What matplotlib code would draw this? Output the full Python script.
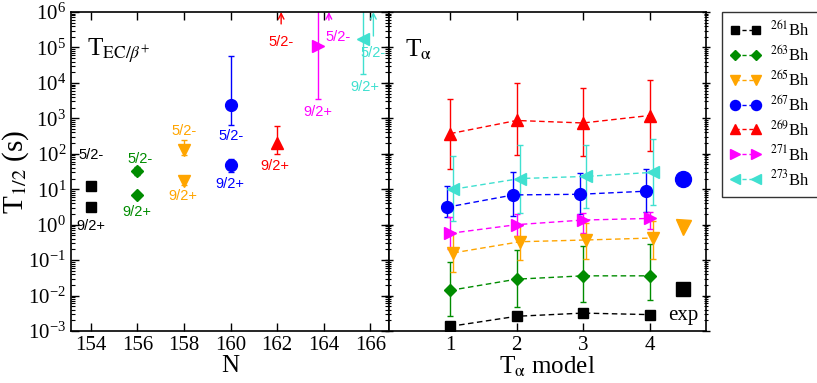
import matplotlib
matplotlib.use("Agg")
import matplotlib.pyplot as plt
import numpy as np
from matplotlib.ticker import LogLocator, NullFormatter, FixedLocator
from matplotlib.lines import Line2D

plt.rcParams['font.family'] = ['Liberation Serif', 'DejaVu Serif']
plt.rcParams['mathtext.fontset'] = 'stix'

# ---------------- data ----------------
isotopes = ['261', '263', '265', '267', '269', '271', '273']
colors = ['black', '#008c00', '#ffa500', '#0000ff', '#ff0000', '#ff00ff', '#40e0d0']
markers = ['s', 'D', 'v', 'o', '^', '>', '<']
msizes = [7, 6, 8, 8.5, 8, 8, 8]

# Left panel: EC/beta+ half-lives vs N
N_vals = [154, 156, 158, 160, 162, 164, 166]
ec_52 = [12, 32, 130, 2400, None, None, None]          # 5/2- state
ec_52_lo = [12, 25, 90, 660, None, None, None]
ec_52_hi = [12, 42, 250, 58000, None, None, None]
ec_92 = [3.1, 6.8, 17, 48, 200, 1.1e5, 1.7e5]          # 9/2+ state
ec_92_lo = [3.1, 6.0, 13, 30, 100, 3400, 1.8e4]
ec_92_hi = [3.1, 7.8, 24, 70, 600, 1e7, 1e7]
ec_N_shift = [0, 0, 0, 0, 0, -0.25, -0.3]              # drawn N for 9/2+
arrow_N = [None, None, None, None, 162.17, 164.22, 166.13]   # 5/2- lower limits
arrow_start = [None, None, None, None, 4.6e5, 5.9e5, 2.1e5]

# Right panel: alpha half-lives vs model
models = [1, 2, 3, 4]
ta_val = {
    '261': [0.00135, 0.0026, 0.0032, 0.0029],
    '263': [0.014, 0.029, 0.036, 0.036],
    '265': [0.16, 0.33, 0.37, 0.42],
    '267': [3.1, 6.9, 7.2, 8.8],
    '269': [370, 870, 740, 1200],
    '271': [0.57, 1.0, 1.35, 1.5],
    '273': [10, 20, 23, 30],
}
ta_lo = {
    '261': [0.00135, 0.0026, 0.0032, 0.0029],
    '263': [0.0027, 0.0047, 0.0066, 0.0076],
    '265': [0.045, 0.1, 0.11, 0.11],
    '267': [1.6, 1.75, 2.0, 2.3],
    '269': [38, 90, 85, 118],
    '271': [0.2, 0.48, 0.6, 0.74],
    '273': [1.27, 2.2, 3.0, 3.7],
}
ta_hi = {
    '261': [0.00135, 0.0026, 0.0032, 0.0029],
    '263': [0.09, 0.19, 0.25, 0.28],
    '265': [0.6, 1.0, 1.1, 1.26],
    '267': [12, 30, 28, 38],
    '269': [3500, 10000, 7400, 12000],
    '271': [1.6, 1.95, 2.2, 2.3],
    '273': [85, 175, 180, 260],
}
ta_shift = {'261': 0, '263': 0, '265': 0.05, '267': -0.05, '269': 0, '271': 0, '273': 0.05}

exp_iso = ['265', '267', '261']
exp_val = [0.85, 20, 0.015]
exp_x = 4.5

# ---------------- figure ----------------
W, H = 817, 383
fig = plt.figure(figsize=(W / 100, H / 100), dpi=100)
axL = fig.add_axes([71 / W, 1 - 331 / H, 318 / W, 319 / H])
axR = fig.add_axes([389 / W, 1 - 331 / H, 317 / W, 319 / H])

for ax in (axL, axR):
    ax.set_yscale('log')
    ax.set_ylim(1e-3, 1e6)
    ax.yaxis.set_major_locator(LogLocator(base=10, numticks=20))
    ax.yaxis.set_minor_locator(LogLocator(base=10, subs=np.arange(2, 10), numticks=20))
    ax.yaxis.set_minor_formatter(NullFormatter())
    ax.tick_params(which='both', direction='in', top=True, right=True, labelsize=15)
    ax.tick_params(which='major', length=6, width=1)
    ax.tick_params(which='minor', length=3, width=0.8)
    for s in ax.spines.values():
        s.set_linewidth(1.2)

axR.tick_params(labelleft=False)
axR.tick_params(axis='y', which='both', left=True, direction='inout')
axL.tick_params(axis='y', which='both', right=True)

# Left panel
axL.set_xlim(153.15, 166.8)
axL.xaxis.set_major_locator(FixedLocator(N_vals))
axL.xaxis.set_minor_locator(FixedLocator([]))
sans = ['Liberation Sans', 'DejaVu Sans']
lab_52 = [(154, 95), (156.1, 73), (158.0, 430), (160.02, 310), (162.17, 1.45e5), (164.62, 2.0e5), (166.13, 6.9e4)]
lab_92 = [(154, 0.91), (155.97, 2.3), (157.96, 6.5), (159.98, 14), (161.9, 45), (163.76, 1480), (165.78, 7600)]
for i, iso in enumerate(isotopes):
    c = colors[i]
    if ec_52[i] is not None:
        v = ec_52[i]
        axL.errorbar([N_vals[i]], [v], yerr=[[v - ec_52_lo[i]], [ec_52_hi[i] - v]],
                     fmt=markers[i], color=c, ms=msizes[i], capsize=2, elinewidth=1, lw=0)
    else:
        axL.annotate('', xy=(arrow_N[i], 1e6), xytext=(arrow_N[i], arrow_start[i]),
                     arrowprops=dict(arrowstyle='->', color=c, lw=1, shrinkA=0, shrinkB=0),
                     annotation_clip=False)
    v = ec_92[i]
    x = N_vals[i] + ec_N_shift[i]
    axL.errorbar([x], [v], yerr=[[v - ec_92_lo[i]], [ec_92_hi[i] - v]],
                 fmt=markers[i], color=c, ms=msizes[i], capsize=2, elinewidth=1, lw=0)
    axL.text(lab_52[i][0], lab_52[i][1], '5/2-', color=c, fontsize=10.5, family=sans,
             ha='center', va='center')
    axL.text(lab_92[i][0], lab_92[i][1], '9/2+', color=c, fontsize=10.5, family=sans,
             ha='center', va='center')

axL.set_xlabel('N', fontsize=18, labelpad=0)
axL.set_ylabel(r'T$_{1/2}$ (s)', fontsize=21)
axL.yaxis.set_label_coords(-0.125, 0.5)
axL.text(0.05, 0.88, r'T$_{\mathrm{EC}/\beta^{+}}$', transform=axL.transAxes, fontsize=18,
         ha='left', va='center')

# Right panel
axR.set_xlim(0.08, 4.85)
axR.xaxis.set_major_locator(FixedLocator(models))
axR.xaxis.set_minor_locator(FixedLocator([]))
for i, iso in enumerate(isotopes):
    c = colors[i]
    xs = np.array(models, dtype=float) + ta_shift[iso]
    v = np.array(ta_val[iso])
    lo = v - np.array(ta_lo[iso])
    hi = np.array(ta_hi[iso]) - v
    axR.errorbar(xs, v, yerr=[lo, hi], fmt=markers[i], color=c, ms=msizes[i],
                 ls=(0, (4, 2.5)), lw=1, capsize=2, elinewidth=1,
                 label=r'$^{%s}$Bh' % iso)

for iso, val in zip(exp_iso, exp_val):
    i = isotopes.index(iso)
    axR.plot([exp_x], [val], marker=markers[i], color=colors[i], ms=msizes[i] * 1.35, ls='none')
axR.text(exp_x + 0.01, 2.7e-3, 'exp', fontsize=15, ha='center', va='center')
axR.text(0.05, 0.88, r'T$_{\mathrm{\alpha}}$', transform=axR.transAxes, fontsize=18,
         ha='left', va='center')
axR.set_xlabel(r'T$_{\mathrm{\alpha}}$ model', fontsize=18, labelpad=0)

leg_handles = [Line2D([0], [0], color=colors[i], marker=markers[i], ms=msizes[i] * 0.85,
                      ls=(0, (3, 2)), lw=1) for i in range(len(isotopes))]
leg = fig.legend(leg_handles, [r'$^{%s}$Bh' % iso for iso in isotopes],
                 loc='upper left', bbox_to_anchor=(722 / W, 1 - 12 / H),
                 numpoints=2, handlelength=1.9, fontsize=12, frameon=True, fancybox=False,
                 edgecolor='black', borderpad=0.45, labelspacing=0.3, handletextpad=0.55,
                 borderaxespad=0)
leg.get_frame().set_linewidth(1)

fig.savefig('out.png', dpi=100)
